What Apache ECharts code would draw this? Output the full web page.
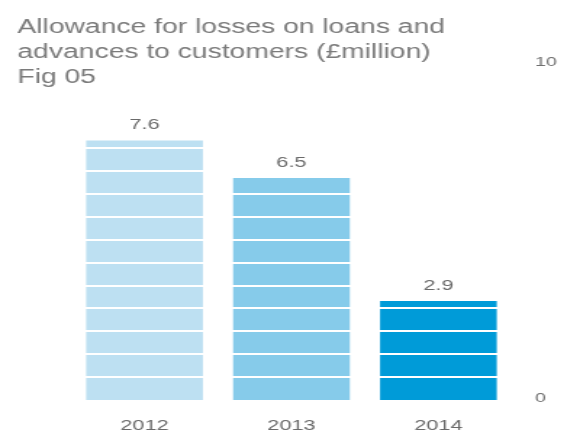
<!DOCTYPE html>
<html>
<head>
<meta charset="utf-8">
<script src="https://cdn.jsdelivr.net/npm/echarts@6/dist/echarts.min.js"></script>
<style>
  html, body { margin: 0; padding: 0; background: #fff; overflow: hidden; }
  /* The figure uses a wide, horizontally stretched type style; the chart is
     laid out at a narrower width and widened to fill the 564px frame. */
  #chart {
    width: 389px;
    height: 433px;
    transform: scaleX(1.45);
    transform-origin: 0 0;
  }
</style>
</head>
<body>
<div id="chart"></div>
<script>
  const titleLines = [
    'Allowance for losses on loans and',
    'advances to customers (£million)',
    'Fig 05'
  ];
  const years = ['2012', '2013', '2014'];
  const allowance = [7.6, 6.5, 2.9];
  const barColors = ['#bde0f2', '#86cbea', '#009bd8'];
  const axisTicks = [0, 10];
  // height of one horizontal band inside the bars, in £million
  const bandStep = 0.672;

  const font = '"Liberation Sans", Arial, Helvetica, sans-serif';
  const axisMin = axisTicks[0];
  const axisMax = axisTicks[axisTicks.length - 1];

  const chart = echarts.init(document.getElementById('chart'), null, { renderer: 'canvas' });

  chart.setOption({
    animation: false,
    backgroundColor: '#ffffff',
    title: {
      text: titleLines.join('\n'),
      left: 7,
      top: 10,
      textStyle: {
        fontFamily: font,
        fontSize: 19.5,
        fontWeight: 'normal',
        lineHeight: 25,
        color: '#7b7b7b'
      }
    },
    grid: { left: 49, right: 36, top: 58.5, bottom: 28.5 },
    xAxis: {
      type: 'category',
      data: years,
      axisLine: { show: false },
      axisTick: { show: false },
      axisLabel: {
        margin: 18,
        fontFamily: font,
        fontSize: 15,
        color: '#6a6a6a'
      }
    },
    yAxis: [
      {
        type: 'value',
        position: 'right',
        min: axisMin,
        max: axisMax,
        interval: axisMax - axisMin,
        axisLine: { show: false },
        axisTick: { show: false },
        splitLine: { show: false },
        axisLabel: {
          margin: 16,
          fontFamily: font,
          fontSize: 13.5,
          color: '#6f6f6f',
          formatter: function (v) {
            return v === axisMax ? '{hi|' + v + '}' : '{lo|' + v + '}';
          },
          rich: {
            hi: { fontFamily: font, fontSize: 13.5, color: '#6f6f6f', padding: [7, 0, 0, 0] },
            lo: { fontFamily: font, fontSize: 13.5, color: '#6f6f6f', padding: [0, 0, 4, 0] }
          }
        }
      },
      {
        // white band separators drawn across the bars
        type: 'value',
        position: 'left',
        min: 0,
        max: axisMax,
        interval: bandStep,
        z: 3,
        axisLine: { show: false },
        axisTick: { show: false },
        axisLabel: { show: false },
        splitLine: {
          show: true,
          showMinLine: false,
          showMaxLine: false,
          lineStyle: { color: '#ffffff', width: 2 }
        }
      }
    ],
    series: [
      {
        type: 'bar',
        yAxisIndex: 0,
        barWidth: 80.5,
        z: 2,
        data: allowance.map(function (v, i) {
          return { value: v, itemStyle: { color: barColors[i] } };
        })
      },
      {
        // value captions placed above the bars
        type: 'bar',
        yAxisIndex: 0,
        barWidth: 80.5,
        barGap: '-100%',
        z: 5,
        itemStyle: { color: 'rgba(0,0,0,0)' },
        label: {
          show: true,
          position: 'top',
          distance: 8,
          fontFamily: font,
          fontSize: 15,
          color: '#6a6a6a',
          formatter: function (p) { return p.value.toFixed(1); }
        },
        data: allowance
      }
    ]
  });
</script>
</body>
</html>
